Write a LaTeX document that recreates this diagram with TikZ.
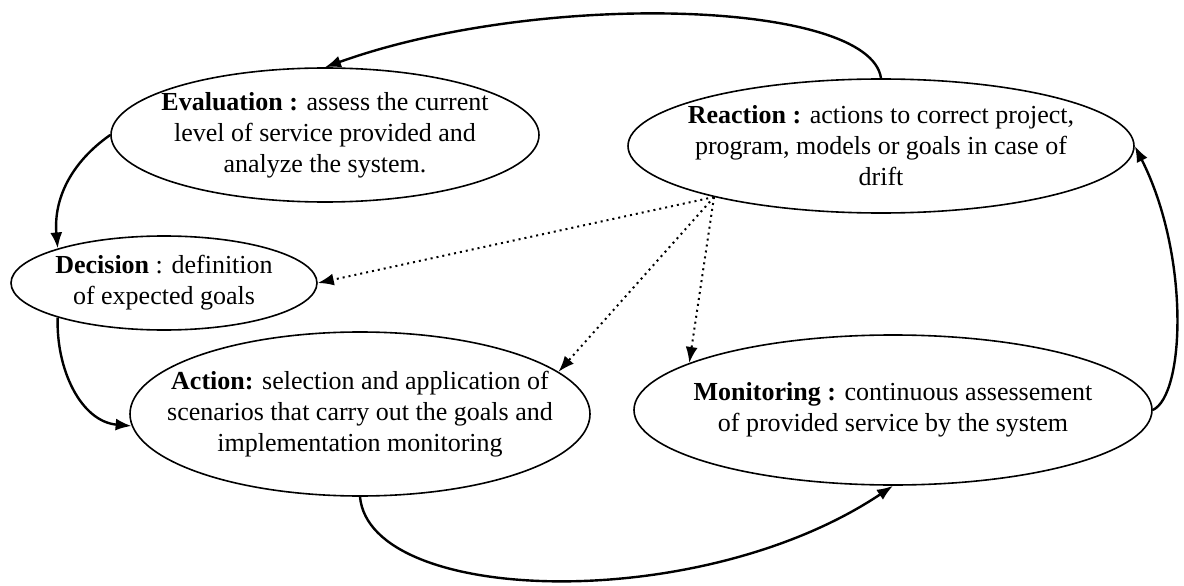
\documentclass[tikz,border=0pt]{standalone}
\usepackage{fontspec}
\setmainfont{Liberation Serif}
\usetikzlibrary{shapes.geometric,arrows.meta}
\begin{document}
\begin{tikzpicture}
	[x=0.5pt,y=0.5pt,
	bubble/.style={ellipse,draw,line width=0.8pt,inner xsep=-30pt,inner ysep=-15pt,align=center,font=\fontsize{13}{15.5}\selectfont},
	flow/.style={line width=1.2pt,-{Latex[length=8pt,width=6pt]}},
	hint/.style={line width=1pt,dotted,-{Latex[length=8pt,width=6pt]}}]
	\useasboundingbox (0,0) rectangle (1184,585);
	\node[bubble,minimum width=214pt,minimum height=67pt] (eval) at (325,450)
		{\textbf{Evaluation :} assess the current\\level of service provided and\\analyze the system.};
	\node[bubble,minimum width=253pt,minimum height=67pt] (react) at (881,439)
		{\textbf{Reaction :} actions to correct project,\\program, models or goals in case of\\drift};
	\node[bubble,minimum width=153pt,minimum height=47pt] (dec) at (164,302)
		{\textbf{Decision} : definition\\of expected goals};
	\node[bubble,minimum width=230pt,minimum height=82pt] (act) at (360,171)
		{\textbf{Action:} selection and application of\\scenarios that carry out the goals and\\implementation monitoring};
	\node[bubble,minimum width=259pt,minimum height=75pt] (mon) at (893,175)
		{\textbf{Monitoring :} continuous assessement\\of provided service by the system};
	\draw[flow] (react.north) .. controls (870,585) and (540,595) .. (eval.north);
	\draw[flow] (eval.west) to[out=215,in=95] (dec.162);
	\draw[flow] (dec.198) to[out=268,in=175] (act.183);
	\draw[flow] (act.south) .. controls (370,-20) and (700,-30) .. (mon.south);
	\draw[flow] (mon.east) .. controls (1185,190) and (1190,330) .. (react.east);
	\draw[hint] (react.197) -- (dec.east);
	\draw[hint] (react.197) -- (act.12);
	\draw[hint] (react.197) -- (mon.167);
\end{tikzpicture}
\end{document}
